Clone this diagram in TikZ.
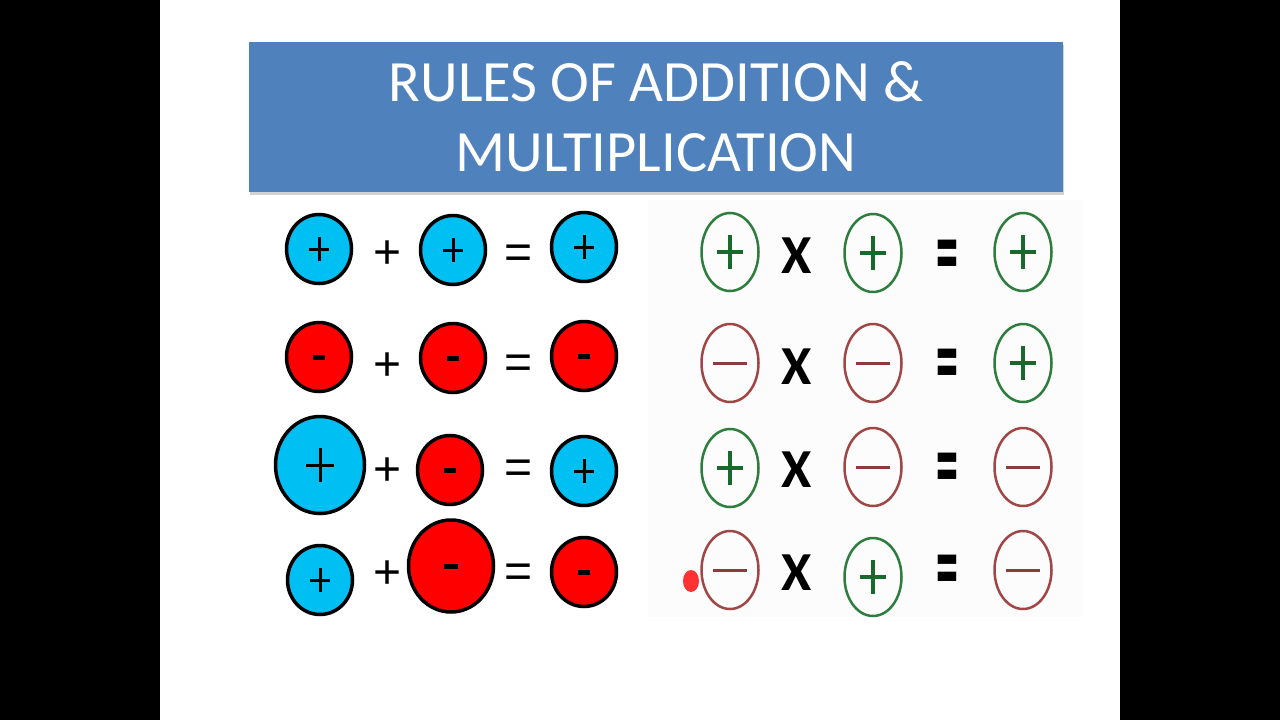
\documentclass[tikz,border=0pt]{standalone}
\usepackage{fontspec}
\setmainfont{Carlito}
\newfontfamily\arialfont{Liberation Sans}
\usetikzlibrary{shapes.geometric, calc, shadows}

\definecolor{titleblue}{RGB}{79,129,189}
\definecolor{chargeblue}{RGB}{0,191,243}
\definecolor{chargered}{RGB}{255,0,0}
\definecolor{ringgreen}{RGB}{46,125,62}
\definecolor{signgreen}{RGB}{25,105,45}
\definecolor{ringred}{RGB}{160,70,70}
\definecolor{signred}{RGB}{140,60,60}

\tikzset{
  charge/.style={ellipse, draw=black, line width=3.5pt, inner sep=0pt, minimum width=65pt, minimum height=69pt},
  pluscharge/.style={charge, fill=chargeblue, path picture={
      \draw[line width=3pt]
      ($(path picture bounding box.center)!0.31!(path picture bounding box.west)$) -- ($(path picture bounding box.center)!0.31!(path picture bounding box.east)$)
      ($(path picture bounding box.center)!0.35!(path picture bounding box.north)$) -- ($(path picture bounding box.center)!0.35!(path picture bounding box.south)$);}},
  minuscharge/.style={charge, fill=chargered, path picture={
      \draw[line width=5pt]
      ($(path picture bounding box.center)!0.17!(path picture bounding box.west)$) -- ($(path picture bounding box.center)!0.17!(path picture bounding box.east)$);}},
  ring/.style={ellipse, line width=2.5pt, inner sep=0pt, minimum width=57pt, minimum height=78pt},
  plusring/.style={ring, draw=ringgreen, path picture={
      \draw[signgreen, line width=4pt]
      ($(path picture bounding box.center)!0.46!(path picture bounding box.west)$) -- ($(path picture bounding box.center)!0.46!(path picture bounding box.east)$)
      ($(path picture bounding box.center)!0.44!(path picture bounding box.north)$) -- ($(path picture bounding box.center)!0.44!(path picture bounding box.south)$);}},
  minusring/.style={ring, draw=ringred, path picture={
      \draw[signred, line width=3pt]
      ($(path picture bounding box.center)!0.58!(path picture bounding box.west)$) -- ($(path picture bounding box.center)!0.58!(path picture bounding box.east)$);}},
  addop/.style={inner sep=0pt, font=\arialfont\fontsize{48}{48}\selectfont},
  mulop/.style={inner sep=0pt, font=\bfseries\fontsize{55}{55}\selectfont},
  titlebox/.style={fill=titleblue, text=white, align=center, inner sep=0pt,
    minimum width=814pt, minimum height=150pt, font=\fontsize{58.5}{70}\selectfont,
    drop shadow={opacity=0.35, shadow xshift=1pt, shadow yshift=-3pt}}
}
\newcommand{\bigeq}{\scalebox{0.8}[1.85]{=}}

\begin{document}
\begin{tikzpicture}[x=1pt, y=-1pt]
    \useasboundingbox (0, 0) rectangle (1280, 720);
    \fill[black] (0, 0) rectangle (1280, 720);
    \fill[white] (160, 0) rectangle (1120, 720);
    \fill[black!1.2] (648, 200) rectangle (1082, 617);

    \node[titlebox] (title) at (656, 117) {RULES OF ADDITION \&\\MULTIPLICATION};

    % addition
    \node[pluscharge] (a1) at (319, 249) {};
    \node[addop] (p1) at (388, 255) {+};
    \node[pluscharge] (b1) at (453, 250) {};
    \node[addop] (e1) at (519, 257) {=};
    \node[pluscharge] (c1) at (584, 247) {};

    \node[minuscharge] (a2) at (319, 357) {};
    \node[addop] (p2) at (388, 367) {+};
    \node[minuscharge] (b2) at (453, 358) {};
    \node[addop] (e2) at (519, 367) {=};
    \node[minuscharge] (c2) at (584, 356) {};

    \node[pluscharge, minimum width=89pt, minimum height=97pt] (a3) at (320, 465) {};
    \node[addop] (p3) at (388, 472) {+};
    \node[minuscharge] (b3) at (450, 470) {};
    \node[addop] (e3) at (519, 472) {=};
    \node[pluscharge] (c3) at (584, 471) {};

    \node[pluscharge] (a4) at (320, 580) {};
    \node[addop] (p4) at (388, 575) {+};
    \node[minuscharge, minimum width=85pt, minimum height=92pt] (b4) at (451, 566) {};
    \node[addop] (e4) at (519, 576) {=};
    \node[minuscharge] (c4) at (584, 572) {};

    % multiplication
    \node[plusring] (m1) at (730, 252) {};
    \node[mulop] (x1) at (797, 256) {X};
    \node[plusring] (n1) at (873, 253) {};
    \node[mulop] (q1) at (947, 263) {\bigeq};
    \node[plusring] (r1) at (1023, 252) {};

    \node[minusring] (m2) at (730, 363) {};
    \node[mulop] (x2) at (797, 367) {X};
    \node[minusring] (n2) at (873, 363) {};
    \node[mulop] (q2) at (947, 372) {\bigeq};
    \node[plusring] (r2) at (1023, 363) {};

    \node[plusring] (m3) at (730, 468) {};
    \node[mulop] (x3) at (797, 470) {X};
    \node[minusring] (n3) at (873, 467) {};
    \node[mulop] (q3) at (947, 476) {\bigeq};
    \node[minusring] (r3) at (1023, 467) {};

    \node[minusring] (m4) at (730, 570) {};
    \node[mulop] (x4) at (797, 573) {X};
    \node[plusring] (n4) at (873, 577) {};
    \node[mulop] (q4) at (947, 578) {\bigeq};
    \node[minusring] (r4) at (1023, 570) {};

    \fill[chargered, opacity=0.8] (691, 581) ellipse (8 and 11);
\end{tikzpicture}
\end{document}
